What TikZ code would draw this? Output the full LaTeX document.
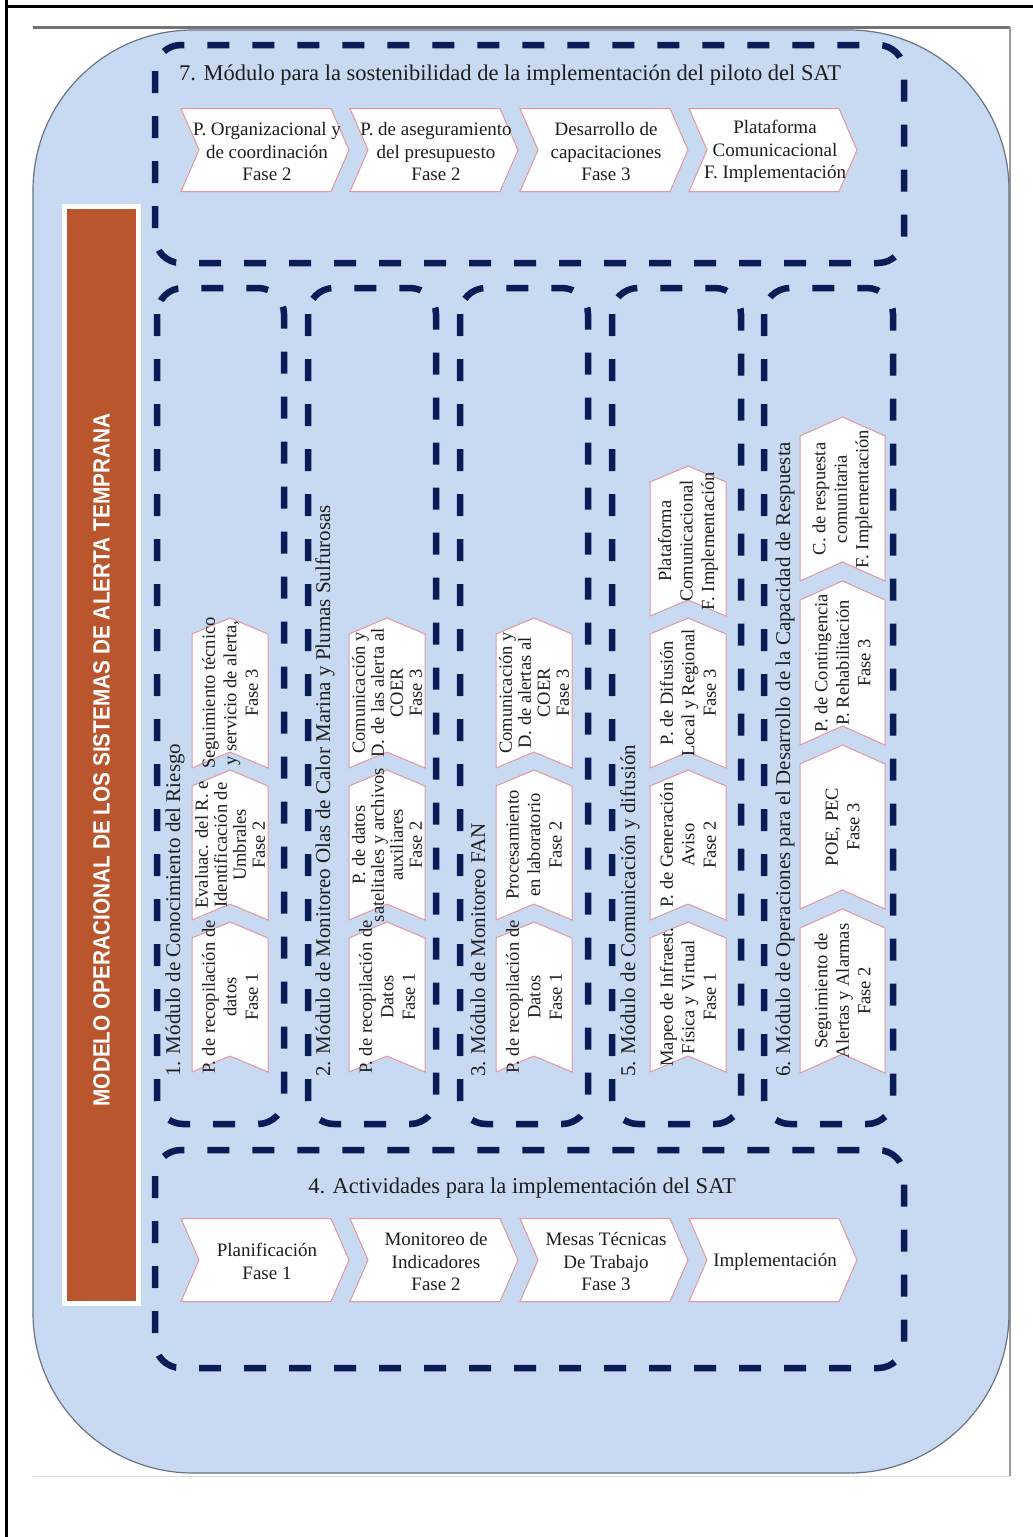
\documentclass[tikz,border=0pt]{standalone}
\usepackage{fontspec}
\usepackage{graphicx}
\setmainfont{Liberation Serif}
\newfontfamily\bannerfont{Liberation Sans}

\definecolor{panelblue}{RGB}{199,218,242}
\definecolor{paneledge}{RGB}{105,115,135}
\definecolor{navy}{RGB}{8,28,86}
\definecolor{chevedge}{RGB}{226,150,160}
\definecolor{rust}{RGB}{186,86,45}
\definecolor{inktext}{RGB}{30,30,30}

\tikzset{
  moduleframe/.style={draw=navy, line width=6.5pt, dash pattern=on 22pt off 23pt, rounded corners=26pt},
  chevron/.style={fill=white, draw=chevedge, line width=1pt, line join=miter},
  hchevtext/.style={align=center, inner sep=0pt, text=inktext, font=\fontsize{19}{22.5}\selectfont},
  vchevtext/.style={align=center, inner sep=0pt, text=inktext, font=\fontsize{18.5}{21.5}\selectfont, rotate=90},
  tight/.style={font=\fontsize{18.5}{19}\selectfont},
  headtext/.style={inner sep=0pt, text=inktext, font=\fontsize{22.5}{26}\selectfont},
  colhead/.style={inner sep=0pt, text=inktext, font=\fontsize{21}{24}\selectfont, rotate=90, anchor=west},
}

% horizontal chevron: name, left x, centre y, text
\newcommand{\hchev}[4]{%
  \draw[chevron] (#2,#3-41.5) -- (#2+150,#3-41.5) -- (#2+168,#3) -- (#2+150,#3+41.5) -- (#2,#3+41.5) -- (#2+18,#3) -- cycle;
  \node[hchevtext] (#1) at (#2+86,#3+1.5) {#4};
}
% upward chevron: [text style], name, centre x, bottom y, width, length, point depth, text
\newcommand{\vchev}[8][]{%
  \draw[chevron] (#3-#5/2,#4) -- (#3,#4-#7) -- (#3+#5/2,#4) -- (#3+#5/2,#4-#6+#7) -- (#3,#4-#6) -- (#3-#5/2,#4-#6+#7) -- cycle;
  \node[vchevtext, #1] (#2) at (#3,#4-#6/2) {#8};
}

\begin{document}
\begin{tikzpicture}[x=1pt, y=-1pt]
\useasboundingbox (0,0) rectangle (1033,1537);

% outer frame
\draw[line width=3pt] (6.5,0) -- (6.5,1537);
\draw[line width=3pt] (5,6.5) -- (1033,6.5);

% page with its shadow
\draw[line width=3pt, black!55] (33,27) -- (1010,27);
\draw[line width=1.5pt, black!40] (1010,27) -- (1010,1476);
\draw[line width=0.8pt, black!15] (33,1476) -- (1010,1476);

% rounded blue panel
\draw[fill=panelblue, draw=paneledge, line width=1.2pt, rounded corners=160pt] (33,30) rectangle (1009,1473);

% vertical banner
\fill[white] (62,204) rectangle (141,1306);
\fill[rust] (67,209) rectangle (136,1301);
\node[rotate=90, inner sep=0pt, text=white, font=\bannerfont\fontsize{23.5}{24}\selectfont\bfseries] (banner) at (101.5,760)
  {\scalebox{0.885}[1]{MODELO OPERACIONAL DE LOS SISTEMAS DE ALERTA TEMPRANA}};

% module 7
\draw[moduleframe] (155,45) rectangle (904,263);
\node[headtext, anchor=west] (m7) at (179,75) {7. Módulo para la sostenibilidad de la implementación del piloto del SAT};
\hchev{m7a}{181}{150}{P. Organizacional y\\de coordinación\\Fase 2}
\hchev{m7b}{350}{150}{P. de aseguramiento\\del presupuesto\\Fase 2}
\hchev{m7c}{520}{150}{Desarrollo de\\capacitaciones\\Fase 3}
\hchev{m7d}{689}{150}{Plataforma\\Comunicacional\\F. Implementación}

% column modules
\draw[moduleframe] (157,288) rectangle (284,1124);
\draw[moduleframe] (308,288) rectangle (436,1124);
\draw[moduleframe] (460,288) rectangle (588,1124);
\draw[moduleframe] (612,288) rectangle (741,1124);
\draw[moduleframe] (764,288) rectangle (893,1124);

\node[colhead] (m1) at (175,1077) {1. Módulo de Conocimiento del Riesgo};
\node[colhead] (m2) at (325,1077) {2. Módulo de Monitoreo Olas de Calor Marina y Plumas Sulfurosas};
\node[colhead] (m3) at (478,1077) {3. Módulo de Monitoreo FAN};
\node[colhead] (m5) at (630,1077) {5. Módulo de Comunicación y difusión};
\node[colhead] (m6) at (785,1077) {6. Módulo de Operaciones para el Desarrollo de la Capacidad de Respuesta};

% module 1
\vchev{m1a}{230}{1072}{76}{150}{16}{P. de recopilación de\\datos\\Fase 1}
\vchev[tight]{m1b}{230}{920}{76}{150}{16}{Evaluac. del R. e\\Identificación de\\Umbrales\\Fase 2}
\vchev{m1c}{230}{768}{76}{150}{16}{Seguimiento técnico\\y servicio de alerta,\\Fase 3}
% module 2
\vchev{m2a}{387}{1072}{76}{150}{16}{P. de recopilación de\\Datos\\Fase 1}
\vchev[tight]{m2b}{387}{920}{76}{150}{16}{P. de datos\\satelitales y archivos\\auxiliares\\Fase 2}
\vchev[tight]{m2c}{387}{768}{76}{150}{16}{Comunicación y\\D. de las alerta al\\COER\\Fase 3}
% module 3
\vchev{m3a}{534}{1072}{76}{150}{16}{P. de recopilación de\\Datos\\Fase 1}
\vchev{m3b}{534}{920}{76}{150}{16}{Procesamiento\\en laboratorio\\Fase 2}
\vchev[tight]{m3c}{534}{768}{76}{150}{16}{Comunicación y\\D. de alertas al\\COER\\Fase 3}
% module 5
\vchev{m5a}{688}{1072}{76}{150}{16}{Mapeo de Infraest.\\Física y Virtual\\Fase 1}
\vchev{m5b}{688}{920}{76}{150}{16}{P. de Generación\\Aviso\\Fase 2}
\vchev{m5c}{688}{768}{76}{150}{16}{P. de Difusión\\Local y Regional\\Fase 3}
\vchev{m5d}{688}{616}{76}{150}{16}{Plataforma\\Comunicacional\\F. Implementación}
% module 6
\vchev{m6a}{842.5}{1073}{85}{164}{19}{Seguimiento de\\Alertas y Alarmas\\Fase 2}
\vchev{m6b}{842.5}{909}{85}{164}{19}{POE, PEC\\Fase 3}
\vchev{m6c}{842.5}{745}{85}{164}{19}{P. de Contingencia\\P. Rehabilitación\\Fase 3}
\vchev{m6d}{842.5}{581}{85}{164}{19}{C. de respuesta\\comunitaria\\F. Implementación}

% module 4
\draw[moduleframe] (155,1150) rectangle (904,1368);
\node[headtext] (m4) at (522,1188) {4. Actividades para la implementación del SAT};
\hchev{m4a}{181}{1260}{Planificación\\Fase 1}
\hchev{m4b}{350}{1260}{Monitoreo de\\Indicadores\\Fase 2}
\hchev{m4c}{520}{1260}{Mesas Técnicas\\De Trabajo\\Fase 3}
\hchev{m4d}{689}{1260}{Implementación}
\end{tikzpicture}
\end{document}
